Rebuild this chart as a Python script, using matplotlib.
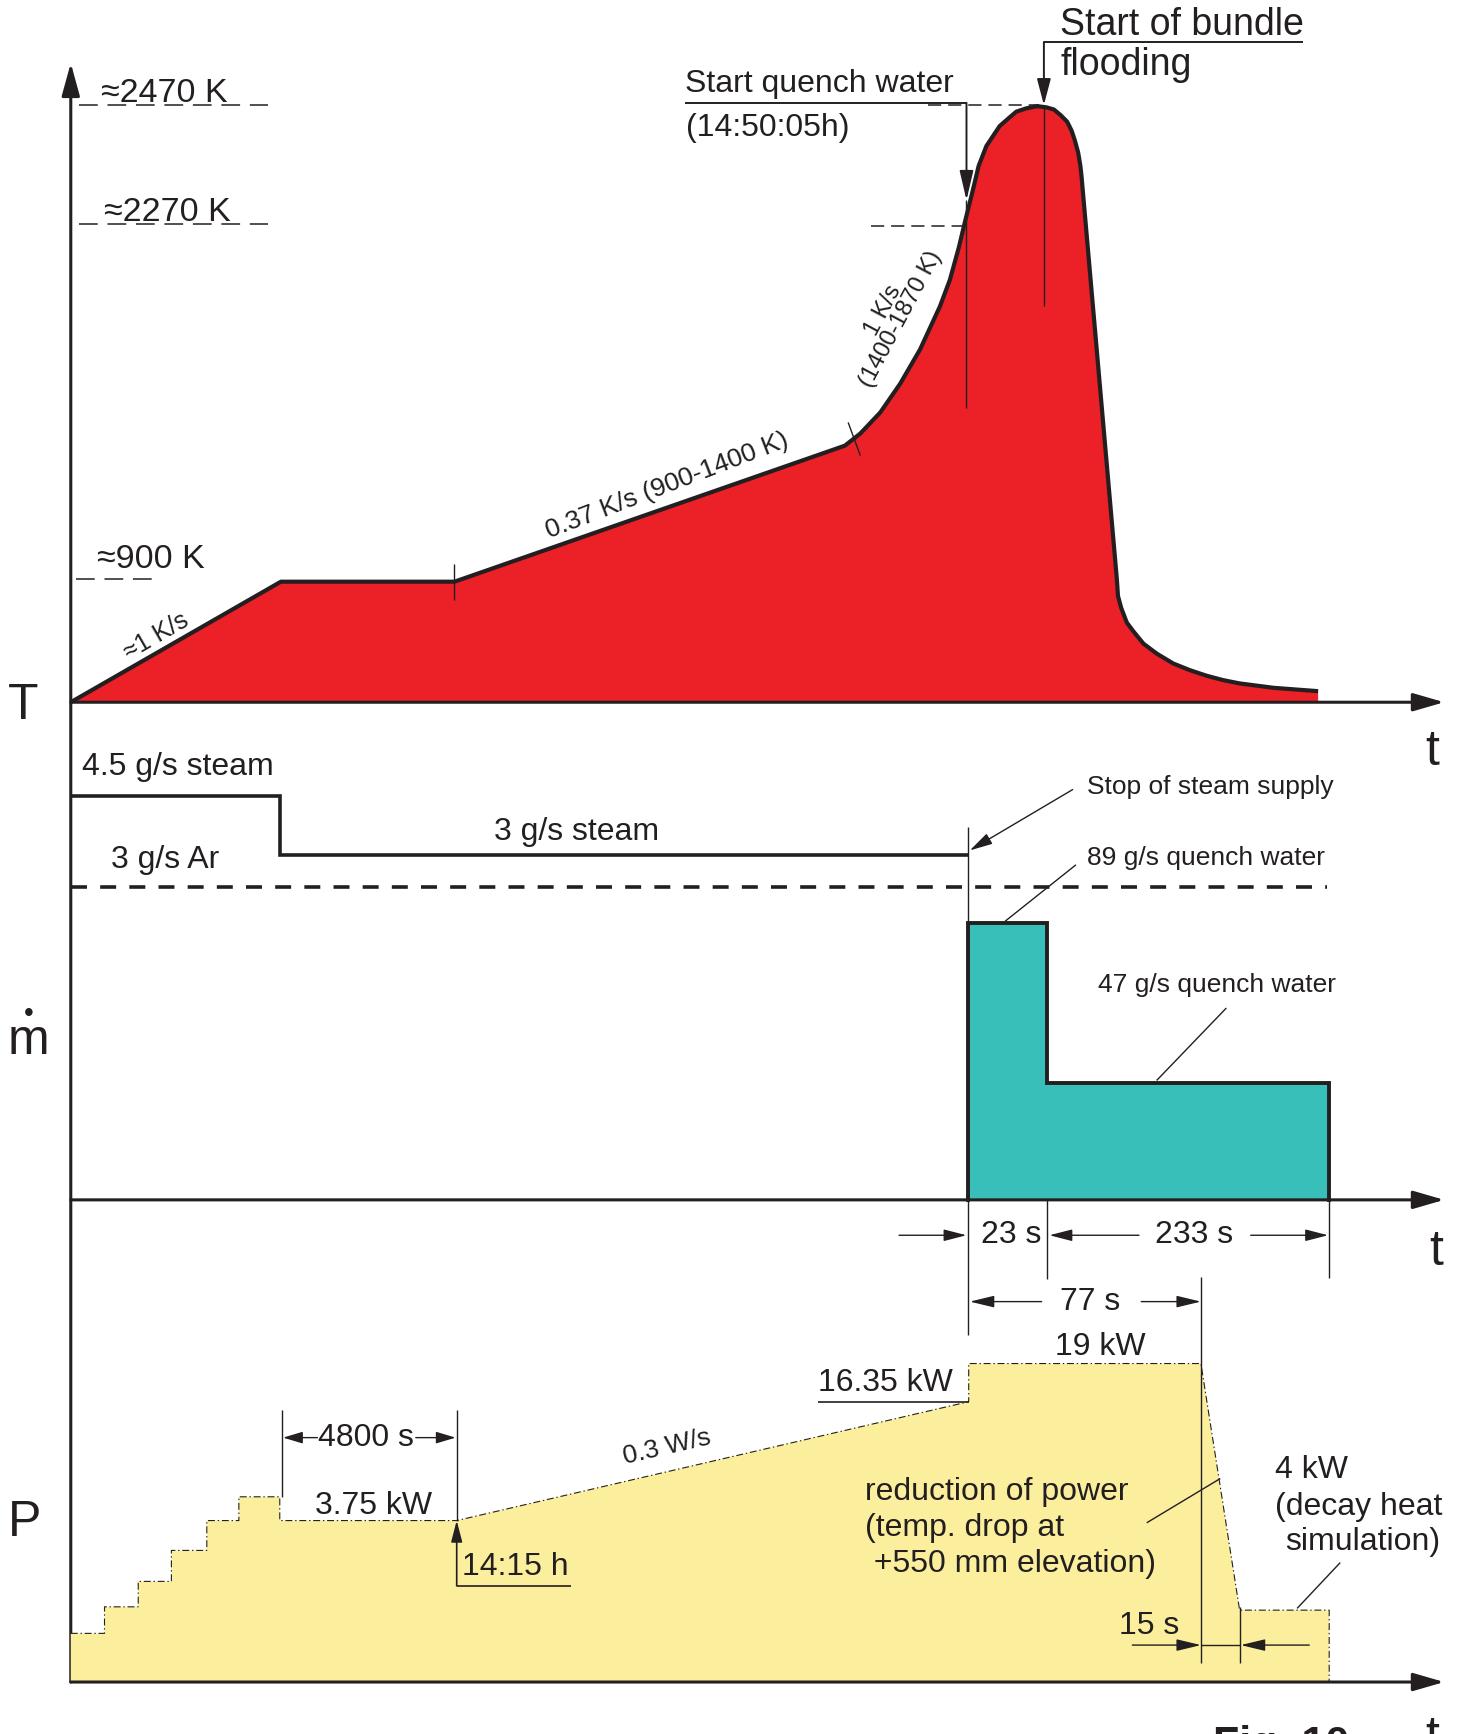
import matplotlib.pyplot as plt

plt.rcParams['font.family'] = ['Liberation Sans', 'DejaVu Sans']
plt.rcParams['lines.scale_dashes'] = False

INK = '#231f20'
RED = '#ec2027'
TEAL = '#38bfba'
YELLOW = '#fbee9c'

BIG = 23
MID = 19
SMALL = 18
AXIS = 36

# schematic time axis (arbitrary units, not to scale)
T_END = 1242

# --- temperature history (arbitrary units above the T baseline)
temp_t = [0, 190, 347, 700, 714, 732, 750, 768, 786, 795, 803, 809, 815, 821, 828, 840,
          848, 855, 864, 874, 882, 889, 895, 901, 905, 908, 911, 913, 914, 946,
          947, 950, 955, 961, 970, 982, 997, 1012, 1027, 1042, 1057, 1088, 1128]
temp_y = [0, 109, 109, 232, 243, 262, 288, 319, 358, 382, 411, 436, 460, 485, 503, 521,
          528, 534, 537, 539, 538, 536, 531, 525, 517, 508, 497, 485, 476, 111,
          96, 85, 72, 64, 53, 44, 35, 29, 24, 20, 17, 13, 10]
temp_levels = [540, 432, 111]            # ~2470 K, ~2270 K, ~900 K
temp_level_labels = ['\u22482470 K', '\u22482270 K', '\u2248900 K']
t_quench = 810                           # start quench water
t_flood = 880                            # start of bundle flooding

# --- mass flow (arbitrary units above the m baseline)
steam_t = [0, 189, 189, 811]
steam_y = [365, 365, 312, 312]
argon_y = 283
argon_end = 1136
quench_t = [811, 811, 883, 883, 1138, 1138]
quench_y = [0, 250, 250, 106, 106, 0]

# --- electric power (arbitrary units above the P baseline)
power_t = [0, 0, 30.5, 30.5, 61, 61, 91, 91, 123, 123, 152, 152, 189, 189, 349,
           812, 812, 1022, 1057, 1138, 1138]
power_y = [0, 44, 44, 68, 68, 91, 91, 119, 119, 146, 146, 167.5, 167.5, 146, 146,
           253.5, 288, 288, 65, 65, 0]

fig = plt.figure(figsize=(14.63, 17.34), dpi=100)


def panel(base):
    ax = fig.add_axes([0, 0, 1, 1])
    ax.set_xlim(-64, 1259)
    ax.set_ylim(base - 1568, base)
    ax.axis('off')
    ax.patch.set_alpha(0)
    return ax


axT = panel(635)
axM = panel(1085)
axP = panel(1521)


def arrow(ax, start, end, hl=13, hw=3.6, lw=1.0):
    ax.annotate('', xy=end, xytext=start,
                arrowprops=dict(arrowstyle=f'-|>,head_length={hl},head_width={hw}',
                                lw=lw, color=INK, shrinkA=0, shrinkB=0, mutation_scale=1),
                annotation_clip=False)


def line(ax, xs, ys, lw=1.0, **kw):
    ax.plot(xs, ys, color=INK, lw=lw, solid_capstyle='butt', clip_on=False, **kw)


def label(ax, x, y, s, size=BIG, **kw):
    kw.setdefault('ha', 'left')
    kw.setdefault('va', 'center')
    ax.text(x, y, s, fontsize=size, color=INK, clip_on=False, **kw)


# ================= temperature panel =================
axT.fill(temp_t + [temp_t[-1]], temp_y + [0], color=RED, lw=0)
axT.plot(temp_t, temp_y, color=INK, lw=3.0, solid_joinstyle='round', solid_capstyle='butt')

# axes with arrows
arrow(axT, (0, 635 - 1521), (0, 578), hl=20, hw=5.5, lw=2.2)
for ax in (axT, axM, axP):
    arrow(ax, (0, 0), (T_END, 0), hl=19, hw=5.5, lw=2.2)

# temperature levels on the left
for lvl, txt, x0, x1, tx in zip(temp_levels, temp_level_labels, [7, 7, 5], [178, 178, 74], [27, 30, 24]):
    line(axT, [x0, x1], [lvl, lvl], lw=1.1, dashes=(13.5, 7))
    label(axT, tx, lvl + 3 if lvl > 200 else lvl + 10, txt, size=24.5, va='baseline')

# tick marks on the ramp
line(axT, [347, 347], [92, 125])
line(axT, [703, 714], [253, 223])

label(axT, 77, 60, '\u22481 K/s', size=SMALL, ha='center', rotation=30)
label(axT, 539, 196, '0.37 K/s (900-1400 K)', size=19, ha='center', rotation=21)
label(axT, 735, 354, '1 K/s', size=17, ha='center', rotation=62)
label(axT, 751, 346, '(1400-1870 K)', size=17, ha='center', rotation=62)

# start quench water
line(axT, [555, t_quench], [542, 542], lw=1.4)
arrow(axT, (t_quench, 542), (t_quench, 454), hl=18, hw=4.2, lw=1.4)
line(axT, [t_quench, t_quench], [454, 266])
line(axT, [775, 876], [540, 540], lw=1.1, dashes=(9.5, 5))
line(axT, [724, 813], [430.6, 430.6], lw=1.1, dashes=(9.5, 5))
label(axT, 555, 552, 'Start quench water', va='baseline')
label(axT, 556, 512, '(14:50:05h)', va='baseline')

# start of bundle flooding
line(axT, [t_flood, 1114], [597, 597], lw=1.4)
arrow(axT, (t_flood, 597), (t_flood, 540), hl=16, hw=4.2, lw=1.4)
line(axT, [t_flood, t_flood], [540, 358])
label(axT, 895, 603, 'Start of bundle', size=27, va='baseline')
label(axT, 895, 567, 'flooding', size=27, va='baseline')

label(axT, -43, -3.5, 'T', size=AXIS, ha='center')
label(axT, 1231, -45, 't', size=AXIS, ha='center')

# ================= mass flow panel =================
axM.fill(quench_t, quench_y, color=TEAL, lw=0)
axM.plot(quench_t, quench_y, color=INK, lw=2.8, solid_joinstyle='miter')
axM.plot(steam_t, steam_y, color=INK, lw=2.6, solid_joinstyle='miter', solid_capstyle='butt')
line(axM, [0, argon_end], [argon_y, argon_y], lw=2.6, dashes=(11.5, 9.5))

line(axM, [811, 811], [337, -122])
line(axM, [883, 883], [0, -72])
line(axM, [1138, 1138], [0, -71])

label(axM, 10, 391, '4.5 g/s steam')
label(axM, 457, 333, '3 g/s steam', ha='center')
label(axM, 36, 307, '3 g/s Ar')

arrow(axM, (906, 371), (813, 316), hl=14, hw=3.6)
label(axM, 919, 373, 'Stop of steam supply', size=MID)
line(axM, [909, 845], [303, 252])
label(axM, 919, 309, '89 g/s quench water', size=MID)
line(axM, [1045, 982], [173.5, 108])
label(axM, 929, 194, '47 g/s quench water', size=MID)

# durations of the quench phases
arrow(axM, (749, -32), (810, -32), hl=14, hw=3.6)
label(axM, 850, -32, '23 s', ha='center')
arrow(axM, (966, -32), (885, -32), hl=14, hw=3.6)
label(axM, 1016, -32, '233 s', ha='center')
arrow(axM, (1067, -32), (1137, -32), hl=14, hw=3.6)

axM.text(-38, 132, 'm', fontsize=AXIS, color=INK, ha='center', va='baseline')
axM.text(-38, 168, '\u2022', fontsize=20, color=INK, ha='center', va='center')
label(axM, 1235, -47, 't', size=AXIS, ha='center')

# ================= power panel =================
axP.fill(power_t, power_y, color=YELLOW, lw=0)
axP.plot(power_t[1:], power_y[1:], color=INK, lw=0.8, linestyle=(0, (5, 2, 1, 2)))

# 4800 s hold
line(axP, [191, 191], [167.5, 246])
line(axP, [349, 349], [146, 246])
arrow(axP, (223, 221), (192, 221), hl=12, hw=3.6)
arrow(axP, (312, 221), (348, 221), hl=12, hw=3.6)
label(axP, 267, 221, '4800 s', ha='center')
label(axP, 274, 159, '3.75 kW', ha='center')

# 14:15 h
arrow(axP, (349, 87), (349, 146), hl=13, hw=3.4, lw=1.2)
line(axP, [349, 452], [87, 87], lw=1.2)
label(axP, 354, 104, '14:15 h')

label(axP, 539, 212, '0.3 W/s', size=19, ha='center', rotation=13)

line(axP, [676, 812], [253.5, 253.5], lw=1.2)
label(axP, 737, 270, '16.35 kW', ha='center')
label(axP, 931, 303, '19 kW', ha='center')

# 77 s high power phase
line(axP, [1022.5, 1022.5], [366, 17])
arrow(axP, (878, 344), (813, 344), hl=15, hw=3.6)
arrow(axP, (968, 344), (1022, 344), hl=15, hw=3.6)
label(axP, 922, 344, '77 s', ha='center')

label(axP, 718, 172, 'reduction of power')
label(axP, 718, 139, '(temp. drop at')
label(axP, 718, 107, ' +550 mm elevation)')
line(axP, [973, 1039.5], [144, 184])

label(axP, 1089, 192, '4 kW')
label(axP, 1089, 158.5, '(decay heat')
label(axP, 1098, 127, 'simulation)')
line(axP, [1109, 1148], [66.6, 108])

# 15 s power reduction
line(axP, [1057.5, 1057.5], [68, 17])
arrow(axP, (960, 33.4), (1022, 33.4), hl=15, hw=3.6)
line(axP, [1022.5, 1057.5], [33.4, 33.4])
arrow(axP, (1120, 33.4), (1058, 33.4), hl=15, hw=3.6)
label(axP, 975, 51, '15 s', ha='center')

label(axP, -42, 143.5, 'P', size=AXIS, ha='center')
label(axP, 1231, -62, 't', size=AXIS, ha='center', va='baseline')
axP.text(1033, -67, 'Fig. 10', fontsize=31, fontweight='bold', color=INK, ha='left', va='baseline')

fig.savefig('out.png', dpi=100)
